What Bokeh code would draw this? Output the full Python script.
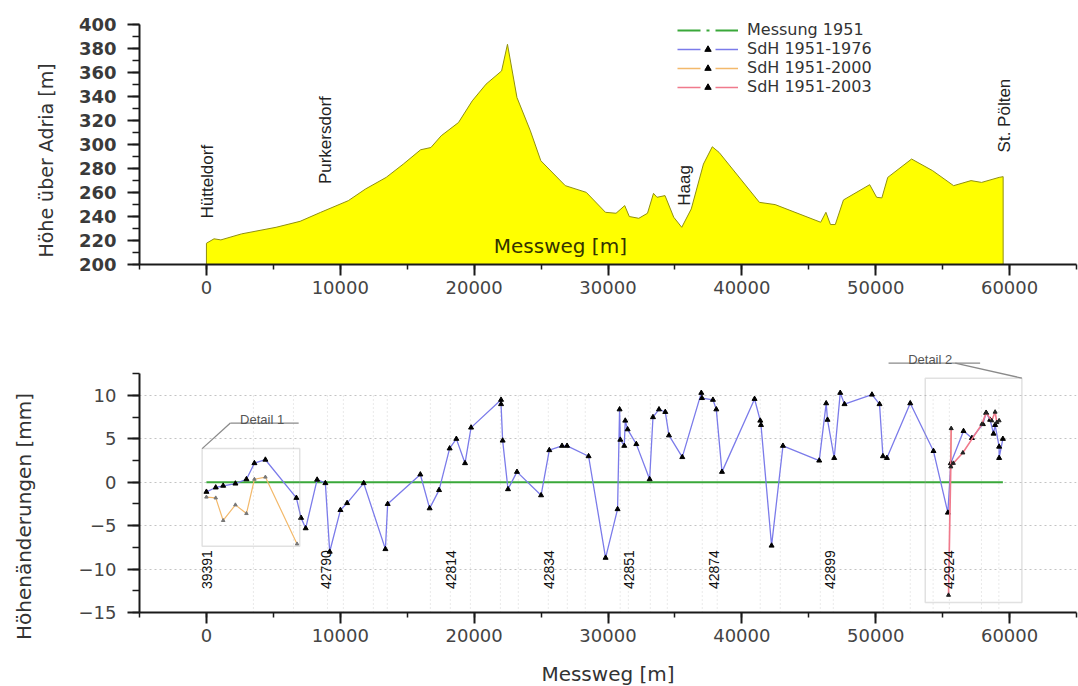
import math
import numpy as np
from bokeh.plotting import figure
from bokeh.layouts import column, row
from bokeh.models import (SingleIntervalTicker, FixedTicker, NumeralTickFormatter, Label,
                          Legend, LegendItem, BoxAnnotation, Arrow)
from bokeh.core.properties import value
from bokeh.embed import file_html
from bokeh.resources import INLINE

# ---------------- data ----------------
# terrain profile along the levelling line (distance in m, height above Adriatic in m)
prof_x = [0, 567, 1080, 2620, 5200, 7000, 8540, 10600, 11880, 13430, 14710, 16000, 16770, 17540,
          18830, 19860, 20890, 22050, 22490, 23200, 24200, 24980, 26810, 28380, 29810, 30600, 31250,
          31590, 32300, 32950, 33400, 33660, 34260, 34910, 35510, 36220, 37130, 37790, 38300, 41310,
          42490, 45890, 46280, 46620, 46980, 47590, 49550, 50070, 50460, 50900, 52680, 54250, 55820,
          57120, 57910, 59220, 59520]
prof_h = [217.7, 221.4, 220.5, 225.5, 231.0, 236.0, 243.5, 253.2, 262.9, 272.6, 283.7, 295.6, 297.5,
          307.3, 318.3, 336.4, 350.3, 361.3, 383.5, 339.1, 311.4, 286.5, 265.7, 260.1, 243.5, 242.7,
          249.1, 240.0, 238.5, 242.7, 259.3, 256.0, 257.4, 239.4, 231.0, 246.3, 283.7, 298.1, 293.4,
          251.8, 249.9, 235.2, 243.5, 233.3, 233.3, 253.8, 266.5, 256.0, 255.5, 272.6, 287.9, 278.2,
          265.7, 269.9, 268.4, 272.6, 273.2]
base_height = 200

places = ["Hütteldorf", "Purkersdorf", "Haag", "St. Pölten"]
place_x = [50, 8925, 35700, 59600]
place_y = [238.3, 267.0, 249.0, 293.4]

# reference epoch 1951 (zero line)
ref_x = [0, 59500]
ref_y = [0, 0]

# height changes SdH 1951-1976 [mm]
sdh76_x = [0, 695, 1250, 2165, 2990, 3585, 4405, 6720, 7070, 7415, 8270, 8885, 9210, 10010, 10510,
           11750, 13370, 13540, 15980, 16675, 17380, 18170, 18670, 19320, 19770, 22010, 22010, 22130,
           22530, 23200, 25000, 25615, 26565, 26940, 28550, 29820, 30715, 30865, 30920, 31215, 31290,
           31465, 32115, 33110, 33360, 33810, 34280, 34555, 35550, 36970, 37020, 37840, 38090, 38515,
           40950, 41375, 41430, 42220, 43070, 45780, 46300, 46400, 46900, 47350, 47670, 49720, 50285,
           50540, 50835, 52580, 54315, 55390, 55610, 56560, 57185, 58005, 58250, 58550, 58800, 58920,
           59220, 59220, 59500]
sdh76_y = [-1.1, -0.6, -0.4, -0.15, 0.35, 2.2, 2.6, -1.8, -4.1, -5.3, 0.3, -0.1, -8.0, -3.2, -2.4,
           -0.1, -7.7, -2.5, 0.9, -3.0, -0.9, 3.9, 5.0, 2.2, 6.3, 9.5, 9.0, 4.8, -0.8, 1.2, -1.5, 3.7,
           4.2, 4.2, 3.0, -8.7, -3.1, 8.4, 4.9, 4.2, 7.1, 6.1, 4.4, 0.35, 7.5, 8.4, 8.1, 5.4, 2.9, 10.3,
           9.7, 9.5, 8.4, 1.2, 9.6, 7.1, 6.6, -7.3, 4.2, 2.5, 9.1, 7.2, 2.8, 10.3, 9.0, 10.1, 9.0, 3.0,
           2.8, 9.1, 3.6, -3.5, 2.2, 5.9, 5.1, 6.7, 8.0, 7.2, 5.6, 6.6, 4.1, 2.8, 5.0]

# height changes SdH 1951-2000 [mm] (two surveyed sections)
sdh00_x = [0, 695, 1250, 2165, 2990, 3585, 4405, 6770, float("nan"), 55640, 55610]
sdh00_y = [-1.7, -1.8, -4.4, -2.6, -3.6, 0.35, 0.6, -7.1, float("nan"), 6.2, 1.8]

# height changes SdH 1951-2003 [mm]
sdh03_x = [55640, 55440, 55610, 55800, 56510, 57930, 58250, 58670, 58920, 59050, 59220]
sdh03_y = [6.2, -13.0, 1.8, 2.2, 3.4, 6.7, 8.0, 7.1, 8.1, 6.9, 7.1]

stations = ["39391", "42790", "42814", "42834", "42851", "42874", "42899", "42924"]
station_x = [50, 8900, 18300, 25620, 31540, 37920, 46550, 55440]
station_label_y = -12.3

# benchmark positions shown as dotted verticals
bench_x = [3510, 6500, 9040, 10230, 12470, 13510, 16730, 18220, 19720, 21960, 23300, 25540, 26960,
           28300, 30910, 31520, 33160, 34430, 37040, 38160, 41370, 42870, 45860, 46830, 50560, 52580,
           54290, 55500, 57900, 59200]

# vertical axis titles (text, pixel position in the left strip, font size)
side_titles = ["Höhe über Adria [m]", "Höhenänderungen [mm]"]
side_title_x = [45, 23]
side_title_y = [160, 516]
side_title_size = ["19px", "20px"]

GREEN = "#3aa83a"
BLUE = "#7b7bea"
ORANGE = "#f3b96b"
PINK = "#f07a8c"
AXIS = "#1a1a1a"
TXT = "#333333"
STRIP_W = 60
TOTAL_H = 686


def style_axes(p):
    for ax in p.axis:
        ax.axis_line_color = AXIS
        ax.axis_line_width = 2
        ax.major_tick_line_color = AXIS
        ax.major_tick_line_width = 2
        ax.minor_tick_line_color = AXIS
        ax.minor_tick_line_width = 1.5
        ax.major_tick_in = 0
        ax.minor_tick_in = 0
        ax.major_label_text_font = "DejaVu Sans"
        ax.major_label_text_color = "#444444"
        ax.major_label_text_font_size = "18px"
    p.xaxis.major_tick_out = 11
    p.xaxis.minor_tick_out = 5
    p.xaxis.major_label_standoff = 5
    p.yaxis.major_tick_out = 12
    p.yaxis.minor_tick_out = 7
    p.yaxis.major_label_standoff = 11
    p.xaxis.ticker = SingleIntervalTicker(interval=10000, num_minor_ticks=2)
    p.xaxis.formatter = NumeralTickFormatter(format="0")
    p.outline_line_color = None
    p.background_fill_color = "white"
    p.border_fill_color = "white"


# ---------------- left strip carrying the vertical axis titles ----------------
p0 = figure(frame_width=STRIP_W, frame_height=TOTAL_H, x_range=(0, STRIP_W), y_range=(TOTAL_H, 0),
            x_axis_location=None, y_axis_location=None, min_border_left=0, min_border_right=0,
            min_border_top=0, min_border_bottom=0, output_backend="svg", toolbar_location=None)
p0.grid.visible = False
p0.outline_line_color = None
for t, tx, ty, ts in zip(side_titles, side_title_x, side_title_y, side_title_size):
    p0.text(x=[tx], y=[ty], text=[t], angle=math.pi / 2, text_align="center",
            text_baseline="middle", text_font=value("DejaVu Sans"), text_font_size=value(ts),
            text_color=TXT)

# ---------------- upper panel: terrain profile ----------------
p1 = figure(frame_width=937, frame_height=252, x_range=(-5000, 65000), y_range=(200, 410),
            min_border_left=139 - STRIP_W, min_border_right=2, min_border_top=12, min_border_bottom=66,
            output_backend="svg", toolbar_location=None)
style_axes(p1)
p1.grid.visible = False
p1.yaxis.ticker = SingleIntervalTicker(interval=20, num_minor_ticks=2)
p1.yaxis.bounds = (200, 400)
p1.yaxis.major_label_text_font_style = "bold"
p1.yaxis.major_label_text_color = "#3a3a3a"

poly_x = prof_x + [prof_x[-1], prof_x[0]]
poly_y = prof_h + [base_height, base_height]
p1.patch(poly_x, poly_y, fill_color="#ffff00", line_color="#8f8f10", line_width=1)

p1.text(x=place_x, y=place_y, text=places, angle=math.pi / 2, text_align="left",
        text_baseline="middle", text_font=value("Liberation Sans"), text_font_size="17px",
        text_color="#222222")

p1.add_layout(Label(x=26440, y=215.8, text="Messweg [m]", text_align="center",
                    text_baseline="middle", text_font="DejaVu Sans", text_font_size="20px",
                    text_color="#333300"))

# legend entries (drawn in the upper panel)
nan = [float("nan")]
lg_ref = p1.line(nan, nan, line_color=GREEN, line_width=2, line_dash="23 6 3 6")
lg76 = p1.line(nan, nan, line_color=BLUE, line_width=1.5, line_dash="23 15")
lg76m = p1.scatter(nan, nan, marker="triangle", size=6, fill_color="black", line_color="black")
lg00 = p1.line(nan, nan, line_color=ORANGE, line_width=1.5, line_dash="23 15")
lg00m = p1.scatter(nan, nan, marker="triangle", size=6, fill_color="black", line_color="black")
lg03 = p1.line(nan, nan, line_color=PINK, line_width=1.5, line_dash="23 15")
lg03m = p1.scatter(nan, nan, marker="triangle", size=6, fill_color="black", line_color="black")
legend = Legend(items=[LegendItem(label="Messung 1951", renderers=[lg_ref]),
                       LegendItem(label="SdH 1951-1976", renderers=[lg76, lg76m]),
                       LegendItem(label="SdH 1951-2000", renderers=[lg00, lg00m]),
                       LegendItem(label="SdH 1951-2003", renderers=[lg03, lg03m])],
                location=(538, 168), glyph_width=61, glyph_height=16, label_height=16,
                label_standoff=9, spacing=0, padding=0, margin=0,
                label_text_font="DejaVu Sans", label_text_font_size="16px",
                label_text_color=TXT, border_line_color=None, background_fill_alpha=0)
p1.add_layout(legend)

# ---------------- lower panel: height changes ----------------
p2 = figure(frame_width=937, frame_height=267, x_range=(-5000, 65000), y_range=(-15, 15.76),
            min_border_left=139 - STRIP_W, min_border_right=2, min_border_top=15, min_border_bottom=74,
            output_backend="svg", toolbar_location=None)
style_axes(p2)
p2.yaxis.ticker = SingleIntervalTicker(interval=5, num_minor_ticks=2)
p2.yaxis.bounds = (-15, 12.5)
p2.xgrid.visible = False
p2.ygrid.ticker = FixedTicker(ticks=[-10, -5, 0, 5, 10])
p2.ygrid.grid_line_color = "#c4c4c4"
p2.ygrid.grid_line_dash = "2 3"
p2.ygrid.grid_line_width = 1

p2.segment(x0=bench_x, y0=-15, x1=bench_x, y1=10.3, line_color="#d4d4d4", line_dash="1 3",
           line_width=1)

p2.xaxis.axis_label = "Messweg [m]"
p2.xaxis.axis_label_text_font = "DejaVu Sans"
p2.xaxis.axis_label_text_font_size = "20px"
p2.xaxis.axis_label_text_font_style = "normal"
p2.xaxis.axis_label_text_color = TXT
p2.xaxis.axis_label_standoff = 17

# detail frames
box_style = dict(fill_alpha=0, line_color="#9a9a9a", line_width=1.5)
p2.add_layout(BoxAnnotation(left=-320, right=6970, bottom=-7.36, top=3.88, **box_style))
p2.add_layout(BoxAnnotation(left=53700, right=60920, bottom=-13.84, top=12.0, **box_style))
lead = dict(line_color="#8a8a8a", line_width=1.3, end=None)
p2.add_layout(Arrow(x_start=-320, y_start=3.88, x_end=1790, y_end=6.82, **lead))
p2.add_layout(Arrow(x_start=1790, y_start=6.82, x_end=6890, y_end=6.82, **lead))
p2.add_layout(Arrow(x_start=50960, y_start=13.73, x_end=57800, y_end=13.73, **lead))
p2.add_layout(Arrow(x_start=55940, y_start=13.73, x_end=60920, y_end=12.0, **lead))
p2.add_layout(Label(x=4160, y=7.25, text="Detail 1", text_align="center", text_baseline="alphabetic",
                    text_font="Liberation Sans", text_font_size="13px", text_color="#555555"))
p2.add_layout(Label(x=54070, y=14.15, text="Detail 2", text_align="center", text_baseline="alphabetic",
                    text_font="Liberation Sans", text_font_size="13px", text_color="#555555"))

# series
p2.line(ref_x, ref_y, line_color=GREEN, line_width=2)
p2.line(sdh00_x, sdh00_y, line_color=ORANGE, line_width=1.2)
p2.scatter(sdh00_x, sdh00_y, marker="triangle", size=3.5, fill_color="#777777", line_color="#777777")
p2.line(sdh76_x, sdh76_y, line_color=BLUE, line_width=1.3)
p2.scatter(sdh76_x, sdh76_y, marker="triangle", size=5, fill_color="black", line_color="black")
p2.line(sdh03_x, sdh03_y, line_color=PINK, line_width=1.6)
p2.scatter(sdh03_x, sdh03_y, marker="triangle", size=4, fill_color="#222222", line_color="#222222")

p2.text(x=station_x, y=station_label_y, text=stations, angle=math.pi / 2, text_align="left",
        text_baseline="middle", text_font=value("Liberation Sans"), text_font_size="14px",
        text_color="#111111")

layout = row(p0, column(p1, p2, spacing=0), spacing=0)
open("out.html", "w").write(file_html(layout, INLINE))
